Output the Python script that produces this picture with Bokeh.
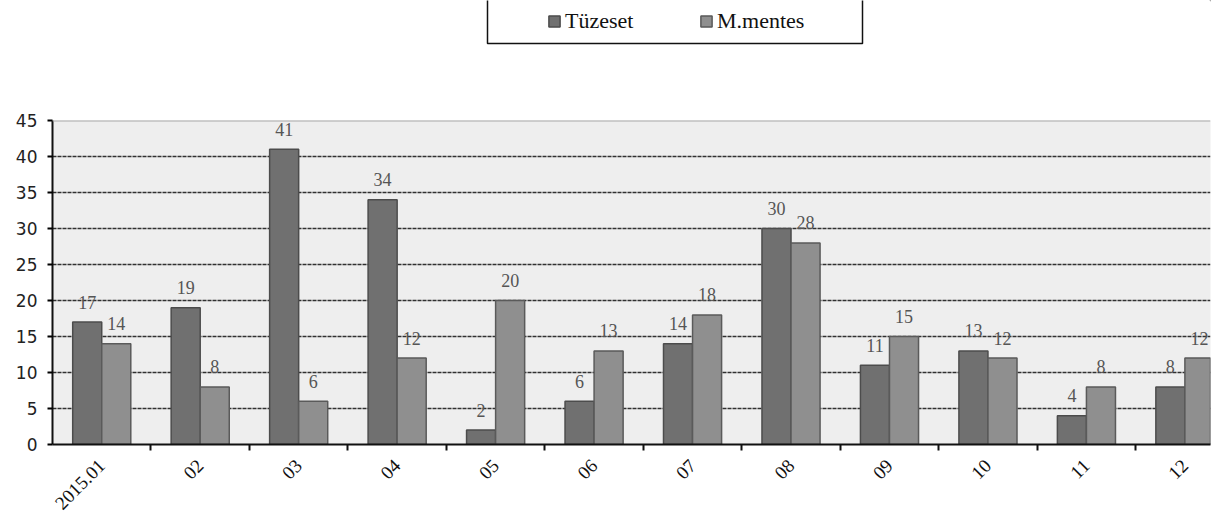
import math
import numpy as np
from bokeh.plotting import figure
from bokeh.layouts import column
from bokeh.models import (FixedTicker, Range1d, Legend, LegendItem, BoxAnnotation, Span)
from bokeh.core.properties import value
from bokeh.embed import file_html
from bokeh.resources import INLINE

months = ["2015.01", "02", "03", "04", "05", "06", "07", "08", "09", "10", "11", "12"]
series_names = ["Tüzeset", "M.mentes"]
tuzeset = [17, 19, 41, 34, 2, 6, 14, 30, 11, 13, 4, 8]
mmentes = [14, 8, 6, 12, 20, 13, 18, 28, 15, 12, 8, 12]
y_ticks = [0, 5, 10, 15, 20, 25, 30, 35, 40, 45]

colors = ["#707070", "#8f8f8f"]
edges = ["#4c4c4c", "#5a5a5a"]

idx = np.arange(len(months))
bw = 0.295

# ---------- legend strip ----------
lg = figure(width=1212, height=45, x_range=Range1d(0, 1), y_range=Range1d(0, 1),
            output_backend="svg", toolbar_location=None,
            x_axis_location=None, y_axis_location=None,
            min_border_left=0, min_border_right=0, min_border_top=0, min_border_bottom=0)
lg.outline_line_color = None
lg.xgrid.visible = False
lg.ygrid.visible = False
# legend-only renderers, drawn outside the visible range
d1 = lg.vbar(x=[5], top=[5], bottom=[4], width=0.1, fill_color=colors[0], line_color=edges[0], line_width=1.5)
d2 = lg.vbar(x=[5], top=[5], bottom=[4], width=0.1, fill_color=colors[1], line_color=edges[1], line_width=1.5)
legend = Legend(items=[LegendItem(label=series_names[0], renderers=[d1]),
                       LegendItem(label=series_names[1], renderers=[d2])],
                orientation="horizontal", location=(495, 11), padding=5, margin=0,
                spacing=50, glyph_width=14, glyph_height=14, label_standoff=4, label_width=84,
                border_line_color=None, background_fill_alpha=0,
                label_text_font="Liberation Serif", label_text_font_size="22px",
                label_text_color="#111111")
lg.add_layout(legend, "center")
lg.add_layout(BoxAnnotation(left=487, right=862, top=-10, bottom=43,
                            left_units="canvas", right_units="canvas",
                            top_units="canvas", bottom_units="canvas",
                            fill_alpha=0, line_color="#111111", line_alpha=1.0, line_width=1.5))

# ---------- main chart ----------
p = figure(width=1212, height=476, x_range=Range1d(-0.5, 11.26), y_range=Range1d(0, 45),
           output_backend="svg", toolbar_location=None,
           min_border_left=52, min_border_right=2, min_border_top=75, min_border_bottom=77,
           background_fill_color="#eeeeee", border_fill_color="white")
p.outline_line_color = None
p.xgrid.visible = False
p.ygrid.ticker = FixedTicker(ticks=y_ticks[1:-1])
p.ygrid.grid_line_color = "#303030"
p.ygrid.grid_line_width = 1.3
p.ygrid.grid_line_dash = "4 1"
p.add_layout(Span(location=45, dimension="width", line_color="#a8a8a8", line_width=2))

r1 = p.vbar(x=idx - bw / 2, top=tuzeset, width=bw, fill_color=colors[0],
            line_color=edges[0], line_width=1.5)
r2 = p.vbar(x=idx + bw / 2, top=mmentes, width=bw, fill_color=colors[1],
            line_color=edges[1], line_width=1.5)

for xs, vals in ((idx - bw / 2, tuzeset), (idx + bw / 2, mmentes)):
    p.text(x=xs, y=vals, text=[str(v) for v in vals], text_align="center",
           text_baseline="alphabetic", y_offset=-20,
           text_font=value("Liberation Serif"), text_font_size="18px", text_color="#555555")

p.yaxis.ticker = FixedTicker(ticks=y_ticks)
p.yaxis.axis_line_width = 2
p.yaxis.axis_line_color = "#111111"
p.yaxis.major_tick_out = 5
p.yaxis.major_tick_in = 0
p.yaxis.major_tick_line_width = 2
p.yaxis.minor_tick_line_color = None
p.yaxis.major_label_text_font = "DejaVu Sans"
p.yaxis.major_label_text_font_size = "17px"
p.yaxis.major_label_text_color = "#222222"
p.yaxis.major_label_standoff = 10

p.xaxis.ticker = FixedTicker(ticks=list(idx), minor_ticks=[i + 0.5 for i in range(len(months) - 1)])
p.xaxis.major_label_overrides = {int(i): m for i, m in zip(idx, months)}
p.xaxis.axis_line_width = 2
p.xaxis.axis_line_color = "#111111"
p.xaxis.major_tick_line_color = None
p.xaxis.minor_tick_line_color = "#111111"
p.xaxis.minor_tick_line_width = 2
p.xaxis.minor_tick_out = 6
p.xaxis.minor_tick_in = 0
p.xaxis.major_label_orientation = math.pi / 4
p.xaxis.major_label_text_font = "Liberation Serif"
p.xaxis.major_label_text_font_size = "19px"
p.xaxis.major_label_text_color = "#111111"
p.xaxis.major_label_standoff = 12

layout = column(lg, p, spacing=0)
open("out.html", "w").write(file_html(layout, INLINE))
